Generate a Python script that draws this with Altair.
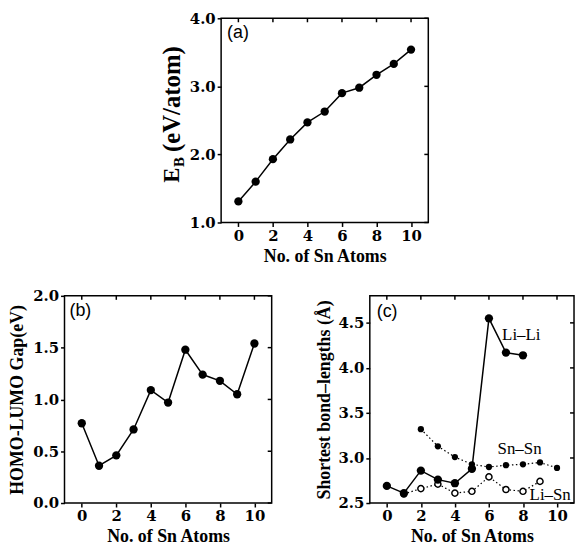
import altair as alt
import pandas as pd

# ---------------- data ----------------
n_atoms = [0, 1, 2, 3, 4, 5, 6, 7, 8, 9, 10]
binding_energy = [1.31, 1.60, 1.93, 2.22, 2.47, 2.63, 2.90, 2.98, 3.17, 3.33, 3.54]
homo_lumo_gap = [0.77, 0.36, 0.46, 0.71, 1.09, 0.97, 1.48, 1.24, 1.18, 1.05, 1.54]

li_li_n = [0, 1, 2, 3, 4, 5, 6, 7, 8]
li_li_len = [2.69, 2.61, 2.86, 2.76, 2.72, 2.88, 4.55, 4.17, 4.14]
sn_sn_n = [2, 3, 4, 5, 6, 7, 8, 9, 10]
sn_sn_len = [3.32, 3.13, 3.01, 2.93, 2.90, 2.92, 2.93, 2.95, 2.89]
li_sn_n = [1, 2, 3, 4, 5, 6, 7, 8, 9]
li_sn_len = [2.60, 2.66, 2.71, 2.61, 2.63, 2.79, 2.65, 2.63, 2.74]

x_ticks = [0, 2, 4, 6, 8, 10]
yticks_a = [1.0, 2.0, 3.0, 4.0]
yticks_b = [0.0, 0.5, 1.0, 1.5, 2.0]
yticks_c = [2.5, 3.0, 3.5, 4.0, 4.5]

bond_labels = ["Li\u2013Li", "Sn\u2013Sn", "Li\u2013Sn"]
bond_label_x = [7.9, 7.8, 9.6]
bond_label_y = [4.37, 3.10, 2.59]

SERIF = "Liberation Serif"
NUM_FONT = "DejaVu Serif"
SANS = "Liberation Sans"
X_TITLE = "No. of Sn Atoms"

AXIS_STYLE = dict(
    labelFont=NUM_FONT, labelFontSize=15, labelFontWeight="bold", labelColor="black",
    titleFont=SERIF, titleFontSize=18, titleFontWeight="bold", titleColor="black",
    tickColor="black", tickSize=4, tickWidth=1.5, domain=False, grid=False,
    labelPadding=2,
)


def make_panel(y_domain, y_ticks, width, height, y_title, title_pad, tag, tag_x, tag_y):
    xs = alt.Scale(domain=[-1, 11], nice=False, zero=False)
    ys = alt.Scale(domain=y_domain, nice=False, zero=False)
    xaxis = alt.Axis(values=x_ticks, format="d", title=X_TITLE, titlePadding=4, **AXIS_STYLE)
    yaxis = alt.Axis(values=y_ticks, format=".1f", title=y_title, titlePadding=title_pad,
                     **AXIS_STYLE)

    def X():
        return alt.X("x:Q", scale=xs, axis=xaxis)

    def Y():
        return alt.Y("y:Q", scale=ys, axis=yaxis)

    top_ticks = alt.Chart(pd.DataFrame({"x": x_ticks})).mark_rule(
        color="black", strokeWidth=1.5
    ).encode(x=X(), y=alt.value(0), y2=alt.value(4))
    right_ticks = alt.Chart(pd.DataFrame({"y": y_ticks})).mark_rule(
        color="black", strokeWidth=1.5
    ).encode(y=Y(), x=alt.value(width), x2=alt.value(width - 4))
    tag_layer = alt.Chart(pd.DataFrame({"t": [tag]})).mark_text(
        font=SANS, fontSize=18, align="left", baseline="middle", color="black"
    ).encode(text="t:N", x=alt.value(tag_x), y=alt.value(tag_y))
    return X, Y, [top_ticks, right_ticks, tag_layer]


def series(xv, yv, X, Y, dash=None, point_size=70, open_pts=False, line_w=1.5):
    df = pd.DataFrame({"x": xv, "y": yv})
    line_kw = dict(color="black", strokeWidth=line_w)
    if dash:
        line_kw["strokeDash"] = dash
    line = alt.Chart(df).mark_line(**line_kw).encode(x=X(), y=Y())
    if open_pts:
        pts = alt.Chart(df).mark_point(
            shape="circle", filled=True, color="white", stroke="black",
            strokeWidth=1.5, size=point_size, opacity=1
        ).encode(x=X(), y=Y())
    else:
        pts = alt.Chart(df).mark_point(
            shape="circle", filled=True, color="black", size=point_size, opacity=1
        ).encode(x=X(), y=Y())
    return [line, pts]


# ---------------- panel (a) ----------------
WA, HA = 209, 206
Xa, Ya, deco_a = make_panel([1.0, 4.0], yticks_a, WA, HA, None, 0, "(a)", 6, 15)
eb_title = [
    alt.Chart(pd.DataFrame({"t": ["E"]})).mark_text(
        font=SERIF, fontSize=23, fontWeight="bold", angle=270, align="left",
        baseline="middle", color="black"
    ).encode(text="t:N", x=alt.value(-49), y=alt.value(166)),
    alt.Chart(pd.DataFrame({"t": ["B"]})).mark_text(
        font=SERIF, fontSize=15, fontWeight="bold", angle=270, align="left",
        baseline="middle", color="black"
    ).encode(text="t:N", x=alt.value(-42), y=alt.value(150)),
    alt.Chart(pd.DataFrame({"t": ["(eV/atom)"]})).mark_text(
        font=SERIF, fontSize=25, fontWeight="bold", angle=270, align="left",
        baseline="middle", color="black"
    ).encode(text="t:N", x=alt.value(-49), y=alt.value(135)),
]
panel_a = alt.layer(
    *series(n_atoms, binding_energy, Xa, Ya), *deco_a, *eb_title
).properties(width=WA, height=HA)

# ---------------- panel (b) ----------------
WB, HB = 209, 209
Xb, Yb, deco_b = make_panel([0.0, 2.0], yticks_b, WB, HB, "HOMO-LUMO Gap(eV)", 6, "(b)", 5, 15)
panel_b = alt.layer(
    *series(n_atoms, homo_lumo_gap, Xb, Yb), *deco_b
).properties(width=WB, height=HB)

# ---------------- panel (c) ----------------
WC, HC = 206, 209
Xc, Yc, deco_c = make_panel([2.5, 4.8], yticks_c, WC, HC,
                            "Shortest bond\u2013lengths (\u00c5)", 5, "(c)", 7, 16)
labels_df = pd.DataFrame({"x": bond_label_x, "y": bond_label_y, "t": bond_labels})
bond_text = alt.Chart(labels_df).mark_text(
    font=SERIF, fontSize=17, align="center", baseline="middle", color="black"
).encode(x=Xc(), y=Yc(), text="t:N")
panel_c = alt.layer(
    *series(sn_sn_n, sn_sn_len, Xc, Yc, dash=[1.5, 2.5], point_size=40, line_w=1.2),
    *series(li_sn_n, li_sn_len, Xc, Yc, dash=[1.5, 2.5], point_size=38, open_pts=True, line_w=1.2),
    *series(li_li_n, li_li_len, Xc, Yc, point_size=70),
    *deco_c, bond_text
).properties(width=WC, height=HC)

spacer = alt.Chart(pd.DataFrame({"x": [0]})).mark_point(opacity=0).encode(
    x=alt.X("x:Q", axis=None), y=alt.Y("x:Q", axis=None)
).properties(width=95, height=10, view=alt.ViewBackground(stroke="transparent"))

chart = alt.vconcat(
    alt.hconcat(spacer, panel_a, spacing=0),
    alt.hconcat(panel_b, panel_c, spacing=41),
    spacing=22,
).properties(
    padding={"left": 0, "top": 0, "right": 0, "bottom": 0},
    background="white",
).configure_view(
    stroke="black", strokeWidth=1.5
).configure_axis(**AXIS_STYLE)

chart.save("out.html", embed_options={"renderer": "svg", "actions": False})
